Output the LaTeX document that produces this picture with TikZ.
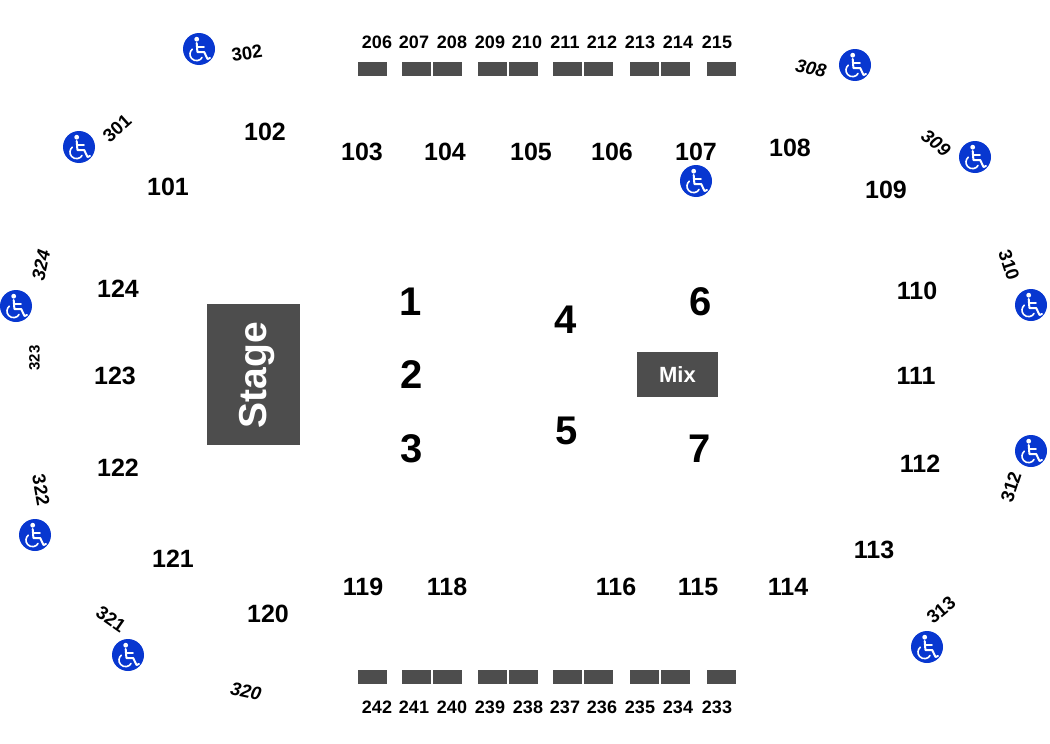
\documentclass[tikz,border=0pt]{standalone}
\usepackage{fontspec}
\setmainfont{Liberation Sans}
\tikzset{
  block/.style={fill=blockgray,draw=none,inner sep=0pt,outer sep=0pt,anchor=north west},
  seat/.style={block,minimum width=29pt,minimum height=14pt},
  floor/.style={font=\bfseries\fontsize{40}{40}\selectfont,text=black,inner sep=0pt},
  lower/.style={font=\bfseries\fontsize{25}{25}\selectfont,text=black,inner sep=0pt},
  upper/.style={font=\bfseries\fontsize{18}{18}\selectfont,text=black,inner sep=0pt},
  side/.style={font=\bfseries\fontsize{18.5}{19}\selectfont,text=black,inner sep=0pt},
  slanted/.style={font=\bfseries\itshape\fontsize{18.5}{19}\selectfont,text=black,inner sep=0pt},
  access/.style={circle,fill=accessblue,draw=none,minimum size=32pt,inner sep=0pt},
  glyph/.style={draw=white,line width=2pt,line cap=round,line join=round},
}
\definecolor{blockgray}{HTML}{4D4D4D}
\definecolor{accessblue}{HTML}{0837D0}
\newcommand{\chairicon}[2]{% name, position
  \node[access] (#1) at (#2) {};
  \fill[white] ([shift={(-2.3,-9.8)}]#1.center) circle (2.4);
  \draw[glyph] ([shift={(-2.3,-6)}]#1.center) -- ([shift={(-1.6,3)}]#1.center) -- ([shift={(5.2,3)}]#1.center) -- ([shift={(8.5,10)}]#1.center) -- ([shift={(11,9)}]#1.center);
  \draw[glyph,line width=1.7pt] ([shift={(-2,-2)}]#1.center) -- ([shift={(5,-2)}]#1.center);
  \draw[glyph,line width=1.6pt] ([shift={(-6.7,0.2)}]#1.center) arc[start angle=230,end angle=30,radius=6.5];
}
\begin{document}
\begin{tikzpicture}[x=1pt,y=-1pt]
  \useasboundingbox (0,0) rectangle (1050,744);
  % stage and mix
  \node[block,minimum width=93pt,minimum height=141pt] (stage) at (207,304) {};
  \node[font=\bfseries\fontsize{39}{39}\selectfont,text=white,rotate=90,inner sep=0pt] (stagetext) at (257.5,375) {Stage};
  \node[block,minimum width=81pt,minimum height=45pt] (mix) at (637,352) {};
  \node[font=\bfseries\fontsize{22}{22}\selectfont,text=white,inner sep=0pt] (mixtext) at (mix.center) {Mix};
  % seat blocks
  \foreach \x in {358,402,433,478,509,553,584,630,661,707}{
    \node[seat] (top\x) at (\x,62) {};
    \node[seat] (bot\x) at (\x,670) {};
  }
  % floor sections
  \foreach \t/\x/\y in {1/411/302,2/412/375,3/412/449,4/566/320,5/567/431,6/701/302,7/700/449}
    \node[floor] (floor\t) at (\x,\y) {\t};
  % lower bowl
  \foreach \t/\x/\y in {101/168/187,102/265/132,103/362/152,104/445/152,105/531/152,106/612/152,107/696/152,108/790/148,109/886/190,110/917/291,111/916/376,112/920/464,113/874/550,114/788/587,115/698/587,116/616/587,118/447/587,119/363/587,120/268/614,121/173/559,122/118/468,123/115/376,124/118/289}
    \node[lower] (sec\t) at (\x,\y) {\t};
  % upper labels
  \foreach \t/\x in {206/377,207/414,208/452,209/490,210/527,211/565,212/602,213/640,214/678,215/717}
    \node[upper] (sec\t) at (\x,42) {\t};
  \foreach \t/\x in {242/377,241/414,240/452,239/490,238/528,237/565,236/602,235/640,234/678,233/717}
    \node[upper] (sec\t) at (\x,707) {\t};
  % side labels
  \foreach \t/\x/\y/\a in {302/247/53/8,301/117/128/42,310/1009/265/-72,312/1011/487/72,313/941/610/40,321/111/619/-35,322/41/490/-80}
    \node[side,rotate=\a] (sec\t) at (\x,\y) {\t};
  \foreach \t/\x/\y/\a in {308/811/68/-12,309/936/143/-38,320/246/691/-12,324/41/265/78}
    \node[slanted,rotate=\a] (sec\t) at (\x,\y) {\t};
  \node[font=\bfseries\fontsize{15}{15}\selectfont,inner sep=0pt,rotate=90] (sec323) at (34.5,358) {323};
  % access icons
  \chairicon{acc1}{199,49}
  \chairicon{acc2}{79,147}
  \chairicon{acc3}{855,65}
  \chairicon{acc4}{975,157}
  \chairicon{acc5}{696,181}
  \chairicon{acc6}{1031,305}
  \chairicon{acc7}{1031,451}
  \chairicon{acc8}{927,647}
  \chairicon{acc9}{128,655}
  \chairicon{acc10}{35,535}
  \chairicon{acc11}{16,306}
\end{tikzpicture}
\end{document}
